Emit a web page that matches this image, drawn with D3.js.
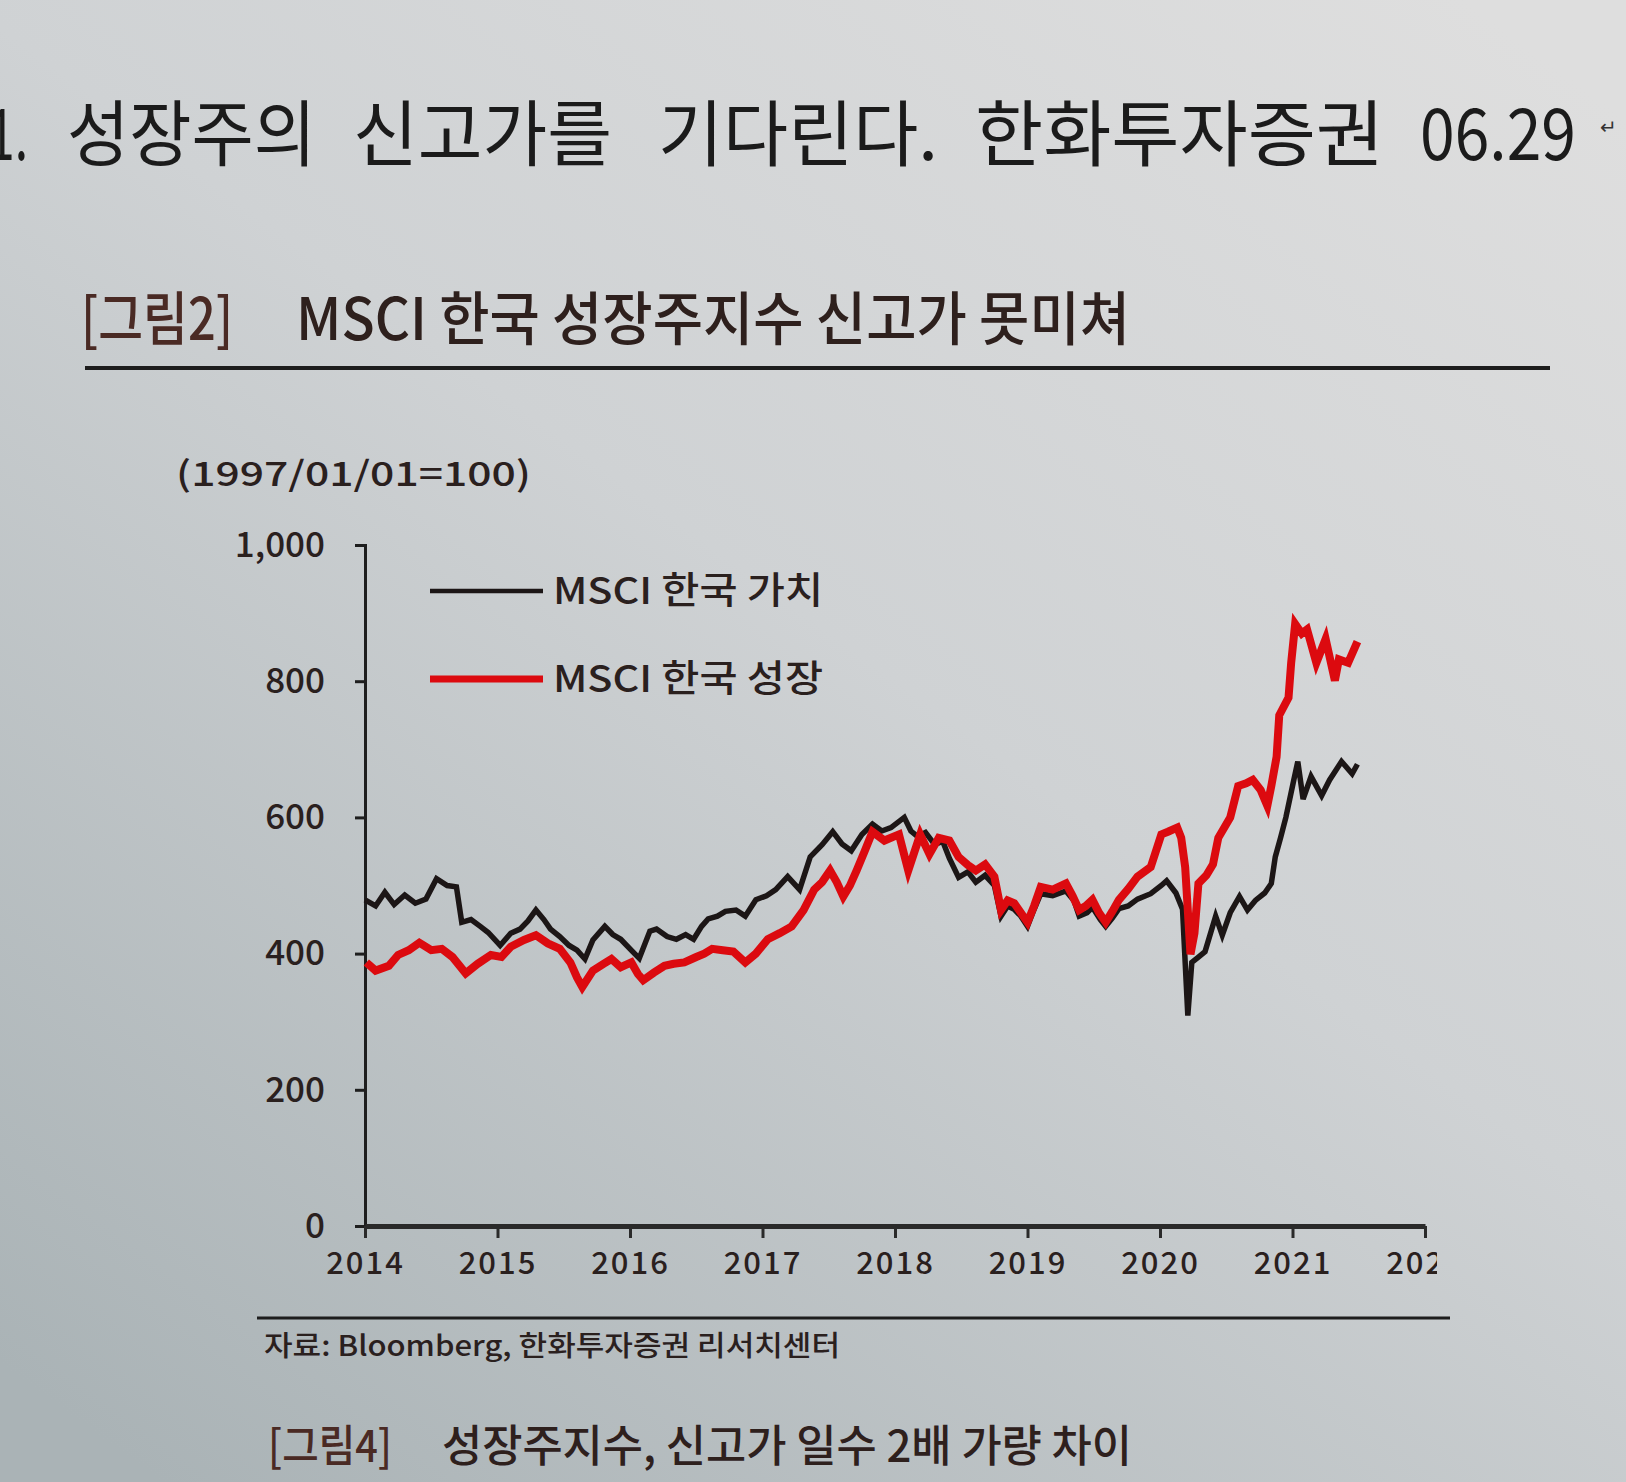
<!DOCTYPE html>
<html><head><meta charset="utf-8">
<script src="https://cdn.jsdelivr.net/npm/d3@7"></script>
<style>html,body{margin:0;padding:0;overflow:hidden;}svg{display:block;}</style>
</head><body>
<svg id="c" width="1626" height="1482"></svg>
<script>
// ---- data (index, 1997/01/01 = 100), time as decimal year ----
const valueDates = [2014.00,2014.08,2014.15,2014.22,2014.30,2014.38,2014.46,2014.54,2014.62,2014.69,2014.73,2014.80,2014.87,2014.93,2015.02,2015.10,2015.17,2015.23,2015.29,2015.35,2015.40,2015.47,2015.54,2015.60,2015.66,2015.72,2015.81,2015.87,2015.93,2016.02,2016.07,2016.15,2016.20,2016.28,2016.35,2016.42,2016.48,2016.54,2016.59,2016.66,2016.72,2016.80,2016.87,2016.95,2017.03,2017.10,2017.19,2017.28,2017.36,2017.45,2017.53,2017.60,2017.67,2017.75,2017.83,2017.90,2017.97,2018.07,2018.12,2018.17,2018.23,2018.30,2018.36,2018.41,2018.48,2018.55,2018.61,2018.68,2018.75,2018.80,2018.85,2018.90,2018.95,2019.00,2019.05,2019.10,2019.19,2019.29,2019.35,2019.39,2019.45,2019.49,2019.55,2019.59,2019.64,2019.69,2019.76,2019.83,2019.93,2020.01,2020.05,2020.12,2020.17,2020.21,2020.24,2020.29,2020.34,2020.42,2020.47,2020.53,2020.60,2020.66,2020.72,2020.79,2020.84,2020.87,2020.91,2020.95,2021.01,2021.04,2021.08,2021.14,2021.22,2021.28,2021.37,2021.45,2021.49];
const valueIndex = [479,470,490,472,486,474,480,510,500,498,446,450,440,431,412,430,436,448,464,450,436,425,412,405,392,420,440,428,421,403,393,433,436,425,421,428,421,440,451,455,462,464,455,479,485,494,513,494,542,560,579,561,551,575,590,580,585,600,580,572,578,560,565,540,512,520,505,515,500,455,470,465,455,440,465,488,485,492,478,455,460,468,450,440,452,466,470,480,488,500,507,489,465,309,387,395,403,455,427,460,484,464,478,489,503,542,570,600,655,682,627,660,632,655,682,664,678];

const growthDates = [2014.01,2014.08,2014.18,2014.25,2014.33,2014.41,2014.50,2014.58,2014.66,2014.76,2014.85,2014.95,2015.03,2015.10,2015.20,2015.29,2015.38,2015.47,2015.55,2015.60,2015.64,2015.72,2015.80,2015.86,2015.93,2016.01,2016.06,2016.10,2016.18,2016.26,2016.33,2016.41,2016.50,2016.56,2016.62,2016.70,2016.78,2016.87,2016.95,2017.04,2017.13,2017.22,2017.31,2017.39,2017.45,2017.51,2017.56,2017.61,2017.66,2017.71,2017.77,2017.83,2017.92,2018.03,2018.10,2018.19,2018.26,2018.33,2018.41,2018.48,2018.55,2018.61,2018.68,2018.75,2018.80,2018.85,2018.90,2018.95,2019.00,2019.05,2019.10,2019.19,2019.29,2019.34,2019.39,2019.44,2019.49,2019.54,2019.59,2019.64,2019.69,2019.76,2019.83,2019.93,2020.01,2020.06,2020.13,2020.16,2020.19,2020.23,2020.26,2020.29,2020.35,2020.40,2020.44,2020.53,2020.59,2020.65,2020.70,2020.76,2020.81,2020.84,2020.88,2020.90,2020.97,2020.99,2021.02,2021.07,2021.11,2021.18,2021.25,2021.32,2021.35,2021.42,2021.49];
const growthIndex = [387,375,382,398,405,416,405,407,395,371,385,398,395,410,420,427,415,407,387,365,351,375,385,392,380,387,370,361,372,382,385,387,395,400,407,405,403,387,400,421,430,440,464,494,505,522,505,484,500,522,550,579,566,575,522,575,546,570,566,542,530,522,531,513,464,478,474,460,446,470,498,494,503,485,464,470,479,460,446,462,479,495,513,527,575,579,585,570,527,399,430,503,515,531,570,600,646,650,655,640,617,646,689,750,776,827,884,870,876,827,862,801,832,827,858];

const seriesNames = ["MSCI 한국 가치", "MSCI 한국 성장"];
const seriesColors = ["#1c1616", "#dc0a0f"];
const yTicks = [0, 200, 400, 600, 800, 1000];
const xTicks = [2014, 2015, 2016, 2017, 2018, 2019, 2020, 2021, 2022];
const xTickLabels = ["2014","2015","2016","2017","2018","2019","2020","2021","2022"];

const svg = d3.select("#c");
const W = 1626, H = 1482;
const KR = "'Noto Sans CJK KR','Noto Sans',sans-serif";
const ink = "#2a201e";

// background like a photographed screen
const defs = svg.append("defs");
const g1 = defs.append("linearGradient").attr("id","bg").attr("x1","0.9").attr("y1","0").attr("x2","0.1").attr("y2","1");
g1.append("stop").attr("offset","0").attr("stop-color","#dedede");
g1.append("stop").attr("offset","0.45").attr("stop-color","#cfd2d4");
g1.append("stop").attr("offset","1").attr("stop-color","#aab3b6");
svg.append("rect").attr("width",W).attr("height",H).attr("fill","url(#bg)");

// heading words
const head = [["1.",-12,40],["성장주의",67,249],["신고가를",353,259],["기다린다.",658,280],["한화투자증권",975,409],["06.29",1420,156]];
head.forEach(([t,x,w]) => {
  svg.append("text").attr("x",x).attr("y",160).attr("textLength",w).attr("lengthAdjust","spacingAndGlyphs")
    .attr("font-family",KR).attr("font-size",72).attr("fill","#1b1b1b").text(t);
});
svg.append("text").attr("x",1600).attr("y",134).attr("font-family",KR).attr("font-size",20).attr("fill","#333").text("↵");

// figure title
svg.append("text").attr("x",81).attr("y",340).attr("textLength",152).attr("lengthAdjust","spacingAndGlyphs")
  .attr("font-family",KR).attr("font-size",58).attr("font-weight",500).attr("fill","#4a2a24").text("[그림2]");
svg.append("text").attr("x",296).attr("y",340).attr("textLength",834).attr("lengthAdjust","spacingAndGlyphs")
  .attr("font-family",KR).attr("font-size",58).attr("font-weight",500).attr("fill","#2e201d").text("MSCI 한국 성장주지수 신고가 못미쳐");
svg.append("line").attr("x1",85).attr("x2",1550).attr("y1",368).attr("y2",368).attr("stroke","#1d1d1d").attr("stroke-width",4);

// scales
const x = d3.scaleLinear().domain([2014, 2022]).range([365, 1425]);
const y = d3.scaleLinear().domain([0, 1000]).range([1226, 545]);

// unit
svg.append("text").attr("x",176).attr("y",486).attr("textLength",355).attr("lengthAdjust","spacingAndGlyphs")
  .attr("font-family",KR).attr("font-size",34).attr("font-weight",500).attr("fill",ink).text("(1997/01/01=100)");

// y axis
const ya = svg.append("g").attr("transform",`translate(${x(2014)},0)`)
  .call(d3.axisLeft(y).tickValues(yTicks).tickSize(10).tickPadding(30).tickFormat(d3.format(",")));
ya.select(".domain").attr("stroke","#1e1e1e").attr("stroke-width",3);
ya.selectAll(".tick line").attr("stroke","#1e1e1e").attr("stroke-width",3);
ya.selectAll(".tick text").attr("font-family",KR).attr("font-size",35).attr("font-weight",500).attr("fill",ink);

// x axis (labels clipped just past the last tick, as in the source)
const clip = defs.append("clipPath").attr("id","xclip");
clip.append("rect").attr("x",0).attr("y",-20).attr("width",x(2022)+12).attr("height",120);
const xa = svg.append("g").attr("transform",`translate(0,${y(0)})`).attr("clip-path","url(#xclip)")
  .call(d3.axisBottom(x).tickValues(xTicks).tickSize(12).tickSizeOuter(0).tickPadding(14)
    .tickFormat((d,i) => xTickLabels[i]));
xa.select(".domain").attr("stroke","#2a2a2a").attr("stroke-width",5);
xa.selectAll(".tick line").attr("stroke","#2a2a2a").attr("stroke-width",3);
xa.selectAll(".tick text").attr("font-family",KR).attr("font-size",31).attr("font-weight",500)
  .attr("letter-spacing",2).attr("fill",ink);

// lines
const line = d3.line().x(d => x(d[0])).y(d => y(d[1])).curve(d3.curveLinear);
const valuePts = valueDates.map((d,i) => [d, valueIndex[i]]);
const growthPts = growthDates.map((d,i) => [d, growthIndex[i]]);
svg.append("path").datum(valuePts).attr("d",line).attr("fill","none")
  .attr("stroke",seriesColors[0]).attr("stroke-width",5.5).attr("stroke-linejoin","miter");
svg.append("path").datum(growthPts).attr("d",line).attr("fill","none")
  .attr("stroke",seriesColors[1]).attr("stroke-width",8).attr("stroke-linejoin","miter");

// legend
const leg = [[591, 4.5], [679, 7]];
seriesNames.forEach((n,i) => {
  const ly = leg[i][0];
  svg.append("line").attr("x1",430).attr("x2",543).attr("y1",ly).attr("y2",ly)
    .attr("stroke",seriesColors[i]).attr("stroke-width",leg[i][1]);
  svg.append("text").attr("x",553).attr("y",ly+13).attr("textLength",270).attr("lengthAdjust","spacingAndGlyphs")
    .attr("font-family",KR).attr("font-size",37).attr("font-weight",500).attr("fill",ink).text(n);
});

// source
svg.append("line").attr("x1",257).attr("x2",1450).attr("y1",1318).attr("y2",1318).attr("stroke","#1d1d1d").attr("stroke-width",3);
svg.append("text").attr("x",264).attr("y",1356).attr("textLength",576).attr("lengthAdjust","spacingAndGlyphs")
  .attr("font-family",KR).attr("font-size",28).attr("font-weight",500).attr("fill",ink).text("자료: Bloomberg, 한화투자증권 리서치센터");

// next figure caption
svg.append("text").attr("x",268).attr("y",1462).attr("textLength",124).attr("lengthAdjust","spacingAndGlyphs")
  .attr("font-family",KR).attr("font-size",44).attr("font-weight",500).attr("fill","#4a2a24").text("[그림4]");
svg.append("text").attr("x",442).attr("y",1462).attr("textLength",690).attr("lengthAdjust","spacingAndGlyphs")
  .attr("font-family",KR).attr("font-size",44).attr("font-weight",500).attr("fill","#2e201d").text("성장주지수, 신고가 일수 2배 가량 차이");
</script>
</body></html>
